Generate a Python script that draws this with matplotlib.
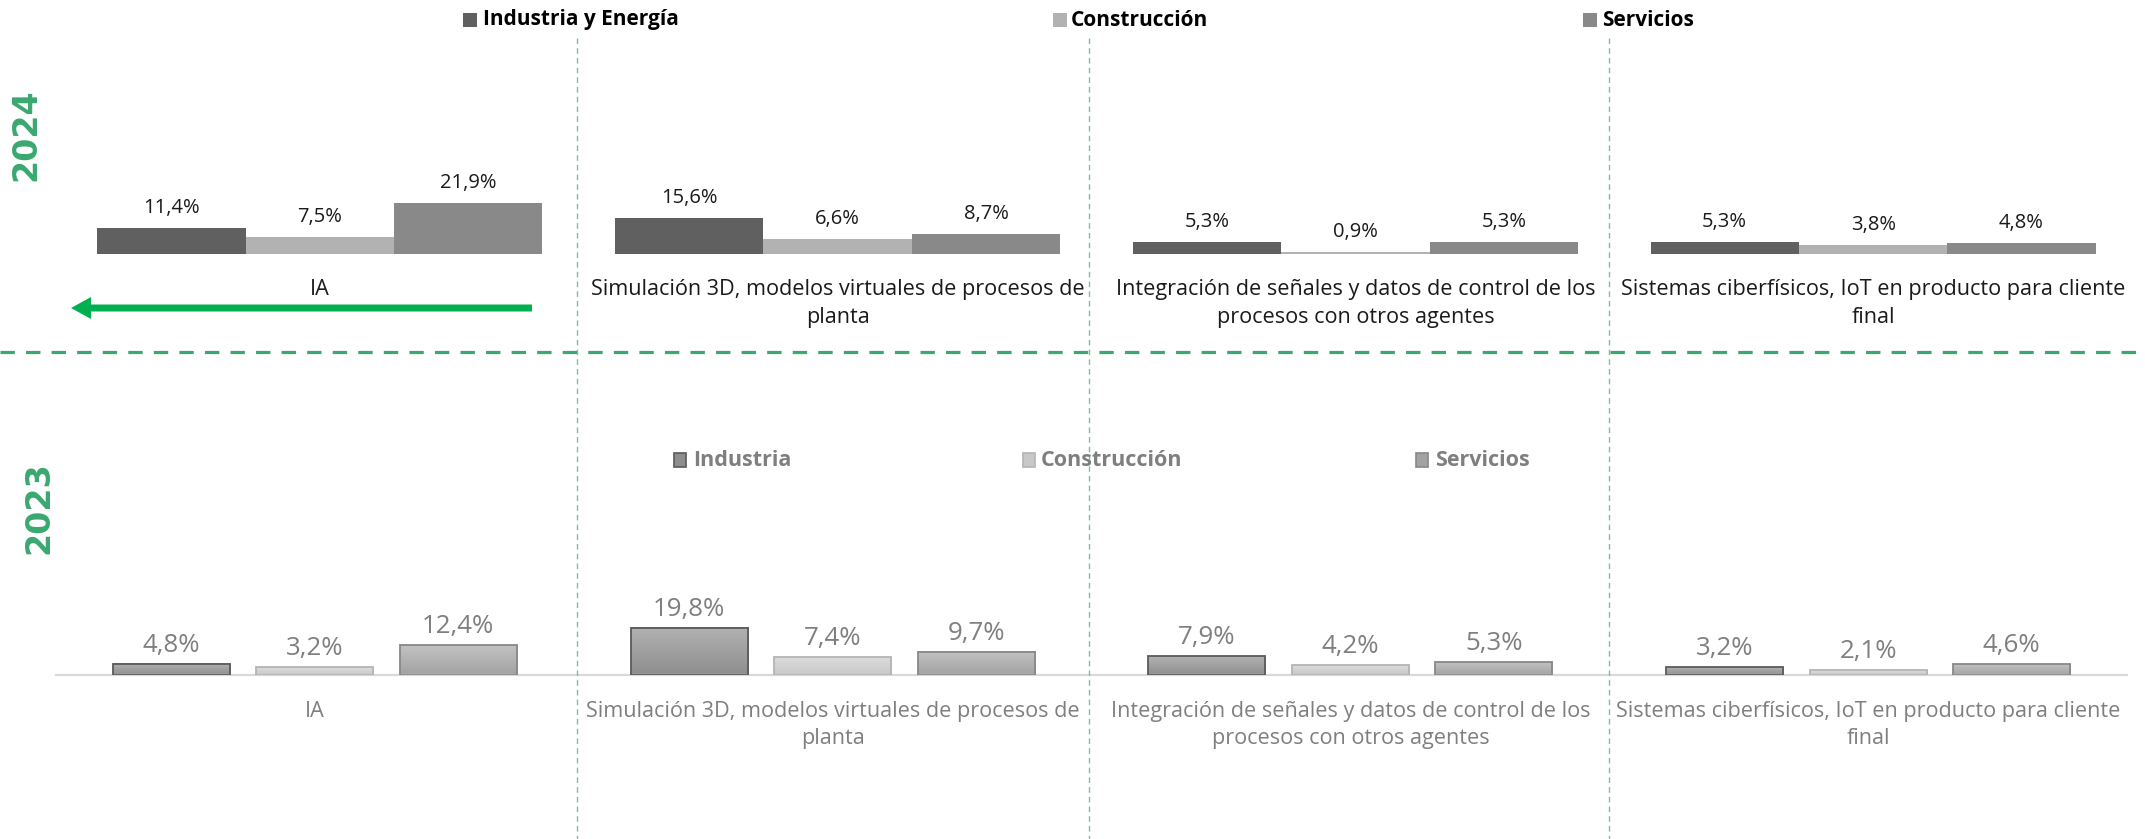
import matplotlib.pyplot as plt
import matplotlib.patches as mpatches
import numpy as np
from matplotlib.colors import LinearSegmentedColormap

W, H = 2145, 839
DPI = 100

categories = [
    "IA",
    "Simulación 3D, modelos virtuales de procesos de\nplanta",
    "Integración de señales y datos de control de los\nprocesos con otros agentes",
    "Sistemas ciberfísicos, IoT en producto para cliente\nfinal",
]
series_2024 = ["Industria y Energía", "Construcción", "Servicios"]
series_2023 = ["Industria", "Construcción", "Servicios"]
values_2024 = [
    [11.4, 15.6, 5.3, 5.3],
    [7.5, 6.6, 0.9, 3.8],
    [21.9, 8.7, 5.3, 4.8],
]
values_2023 = [
    [4.8, 19.8, 7.9, 3.2],
    [3.2, 7.4, 4.2, 2.1],
    [12.4, 9.7, 5.3, 4.6],
]

TOP_COLORS = ["#606060", "#b2b2b2", "#898989"]
# (top of gradient, bottom of gradient, edge)
BOT_COLORS = [("#b2b2b2", "#8e8e8e", "#5a5a5a"),
              ("#dcdcdc", "#c8c8c8", "#b4b4b4"),
              ("#c2c2c2", "#a2a2a2", "#888888")]
GREEN = "#3aa870"
GRAY_TXT = "#7f7f7f"
FONT = ["Open Sans", "DejaVu Sans"]

plt.rcParams["font.family"] = FONT

fig = plt.figure(figsize=(W / DPI, H / DPI), dpi=DPI, facecolor="white")


def px_axes(x0, x1, y_top, y_bot):
    # pixel box (y from top) -> figure fraction
    return [x0 / W, 1 - y_bot / H, (x1 - x0) / W, (y_bot - y_top) / H]


def fmt(v):
    return f"{v:.1f}%".replace(".", ",")


x = np.arange(len(categories))

# ---- 2024 panel ----
ax1 = fig.add_axes(px_axes(61, 2132, 40, 254))
ax1.set_xlim(-0.5, 3.5)
ax1.set_ylim(0, 214 / 2.32)
ax1.axis("off")
bw = 0.2866
for k, (vals, c) in enumerate(zip(values_2024, TOP_COLORS)):
    bars = ax1.bar(x + (k - 1) * bw, vals, width=bw, color=c, edgecolor="none", zorder=2)
    for b, v in zip(bars, vals):
        ax1.annotate(fmt(v), (b.get_x() + bw / 2, v), xytext=(0, 15), textcoords="offset pixels",
                     ha="center", va="baseline", fontsize=14.5, color="#1a1a1a")
for i, lab in enumerate(categories):
    ax1.annotate(lab, (i, 0), xytext=(0, -25), textcoords="offset pixels", ha="center", va="top",
                 fontsize=15.6, color="#1a1a1a", linespacing=1.45, annotation_clip=False)

# ---- 2023 panel ----
ax2 = fig.add_axes(px_axes(56, 2127, 400, 675))
ax2.set_xlim(-0.5, 3.5)
ax2.set_ylim(0, 275 / 2.38)
for s in ["top", "right", "left"]:
    ax2.spines[s].set_visible(False)
ax2.spines["bottom"].set_color("#d9d9d9")
ax2.spines["bottom"].set_linewidth(1.6)
ax2.set_xticks([])
ax2.set_yticks([])
ax2.patch.set_alpha(0)
bw2, step2 = 0.226, 0.277
grad = np.linspace(0, 1, 64).reshape(-1, 1)
for k, (vals, (ct, cb, ce)) in enumerate(zip(values_2023, BOT_COLORS)):
    cmap = LinearSegmentedColormap.from_list(f"g{k}", [cb, ct])
    bars = ax2.bar(x + (k - 1) * step2, vals, width=bw2, facecolor="none", edgecolor=ce,
                   linewidth=1.3, zorder=3)
    for b, v in zip(bars, vals):
        x0 = b.get_x()
        ax2.imshow(grad, extent=[x0, x0 + bw2, 0, v], origin="lower", aspect="auto",
                   cmap=cmap, zorder=2, interpolation="bicubic")
        ax2.annotate(fmt(v), (x0 + bw2 / 2, v), xytext=(0, 12), textcoords="offset pixels",
                     ha="center", va="baseline", fontsize=18.6, color=GRAY_TXT)
ax2.set_xlim(-0.5, 3.5)
ax2.set_ylim(0, 275 / 2.38)
for i, lab in enumerate(categories):
    ax2.annotate(lab, (i, 0), xytext=(0, -26), textcoords="offset pixels", ha="center", va="top",
                 fontsize=15.6, color=GRAY_TXT, linespacing=1.4, annotation_clip=False)

# ---- overlay: separators, arrow, legends, year labels ----
ov = fig.add_axes([0, 0, 1, 1], zorder=5)
ov.set_xlim(0, W)
ov.set_ylim(H, 0)
ov.axis("off")
ov.patch.set_alpha(0)

for xv in [577, 1089, 1609]:
    ov.plot([xv, xv], [38, H], color="#7cc0a0", lw=1.0, ls=(0, (4, 3)))
ov.plot([0, W], [352, 352], color=GREEN, lw=2.3, ls=(0, (4.5, 3.5)))

ov.add_patch(mpatches.FancyArrow(532, 308, -441, 0, width=7, head_width=22, head_length=20,
                                 length_includes_head=False, color="#00b050", lw=0))

ov.text(26, 135, "2024", rotation=90, ha="center", va="center", fontsize=24, fontweight="bold",
        color=GREEN, family="DejaVu Sans")
ov.text(39, 508, "2023", rotation=90, ha="center", va="center", fontsize=24, fontweight="bold",
        color=GREEN, family="DejaVu Sans")

for (mx, tx), name, c in zip([(463, 483), (1053, 1071), (1583, 1602)], series_2024, TOP_COLORS):
    ov.add_patch(mpatches.Rectangle((mx, 13), 14, 14, color=c, lw=0))
    ov.text(tx, 20, name, ha="left", va="center", fontsize=15, fontweight="bold", color="#000000")

for (mx, tx), name, (ct, cb, ce) in zip([(674, 693), (1023, 1041), (1416, 1435)], series_2023, BOT_COLORS):
    ov.add_patch(mpatches.Rectangle((mx, 453), 12, 14, facecolor=cb, edgecolor=ce, lw=1.2))
    ov.text(tx, 460, name, ha="left", va="center", fontsize=15.5, fontweight="bold", color=GRAY_TXT)

fig.savefig("out.png", dpi=DPI, facecolor="white")
